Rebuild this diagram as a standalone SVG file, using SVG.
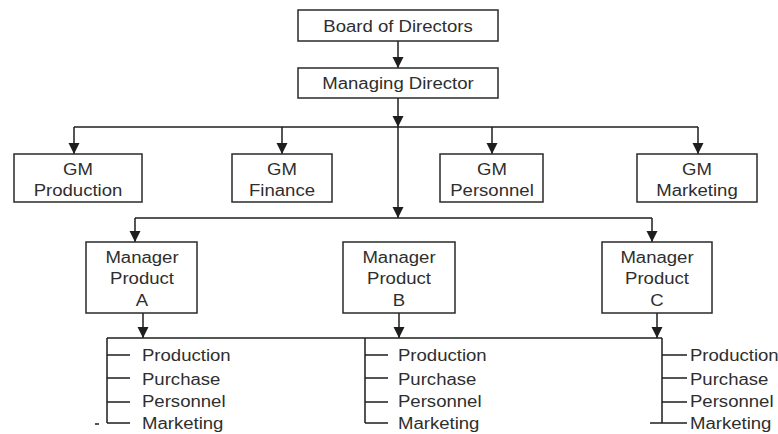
<svg xmlns="http://www.w3.org/2000/svg" width="778" height="434" viewBox="0 0 778 434">
  <style>
    .box { fill: #ffffff; stroke: #2a2a2a; stroke-width: 1.5; }
    .wire { fill: none; stroke: #1e1e1e; stroke-width: 1.5; }
    .arrow { marker-end: url(#head); }
    text { font-family: "Liberation Sans", Arial, sans-serif; font-size: 16px; fill: #2e2e2e; }
    .c { text-anchor: middle; }
  </style>
  <defs>
    <marker id="head" markerUnits="userSpaceOnUse" markerWidth="12" markerHeight="12" viewBox="0 0 12 12" refX="11" refY="6" orient="auto">
      <path d="M0 0.5 L11 6 L0 11.5 Z" fill="#1e1e1e"/>
    </marker>
  </defs>

  <rect width="778" height="434" fill="#ffffff"/>

  <!-- connectors -->
  <g id="connectors">
    <path class="wire arrow" d="M398 41 V68"/>
    <path class="wire arrow" d="M398 98 V127"/>
    <path class="wire arrow" d="M398 127 V218"/>
    <path class="wire" d="M74 127 H698"/>
    <path class="wire arrow" d="M74 127 V154"/>
    <path class="wire arrow" d="M282 127 V154"/>
    <path class="wire arrow" d="M492 127 V154"/>
    <path class="wire arrow" d="M698 127 V154"/>
    <path class="wire" d="M135 218 H652"/>
    <path class="wire arrow" d="M135 218 V242"/>
    <path class="wire arrow" d="M652 218 V242"/>
    <path class="wire arrow" d="M143 313 V338"/>
    <path class="wire arrow" d="M399 313 V338"/>
    <path class="wire arrow" d="M657 313 V338"/>
    <path class="wire" d="M107 338 H662"/>
    <!-- department ticks under product A -->
    <path class="wire" d="M107 338 V423 M107 355 H130 M107 378 H130 M107 402 H130 M107 423 H130"/>
    <!-- department ticks under product B -->
    <path class="wire" d="M365 338 V423 M365 355 H388 M365 378 H388 M365 402 H388 M365 423 H388"/>
    <!-- department ticks under product C -->
    <path class="wire" d="M662 338 V423 M662 355 H687 M662 378 H687 M662 402 H687 M662 423 H687"/>
    <path class="wire" d="M95 424 H99"/>
    <path class="wire" d="M650 423 H662"/>
  </g>

  <g id="board">
    <rect class="box" x="298" y="10" width="200" height="31"/>
    <text class="c" transform="translate(398 32) scale(1.16 1)">Board of Directors</text>
  </g>

  <g id="managing-director">
    <rect class="box" x="298" y="68" width="200" height="30"/>
    <text class="c" transform="translate(398 89) scale(1.16 1)">Managing Director</text>
  </g>

  <g id="gm-production">
    <rect class="box" x="14" y="154" width="128" height="48"/>
    <text class="c" transform="translate(78 175) scale(1.16 1)">GM</text>
    <text class="c" transform="translate(78 196) scale(1.16 1)">Production</text>
  </g>

  <g id="gm-finance">
    <rect class="box" x="232" y="154" width="100" height="48"/>
    <text class="c" transform="translate(282 175) scale(1.16 1)">GM</text>
    <text class="c" transform="translate(282 196) scale(1.16 1)">Finance</text>
  </g>

  <g id="gm-personnel">
    <rect class="box" x="440" y="154" width="103" height="48"/>
    <text class="c" transform="translate(492 175) scale(1.16 1)">GM</text>
    <text class="c" transform="translate(492 196) scale(1.16 1)">Personnel</text>
  </g>

  <g id="gm-marketing">
    <rect class="box" x="637" y="154" width="120" height="48"/>
    <text class="c" transform="translate(697 175) scale(1.16 1)">GM</text>
    <text class="c" transform="translate(697 196) scale(1.16 1)">Marketing</text>
  </g>

  <g id="product-a">
    <rect class="box" x="86" y="242" width="111" height="71"/>
    <text class="c" transform="translate(142 263) scale(1.16 1)">Manager</text>
    <text class="c" transform="translate(142 284) scale(1.16 1)">Product</text>
    <text class="c" transform="translate(142 306) scale(1.16 1)">A</text>
  </g>

  <g id="product-b">
    <rect class="box" x="343" y="242" width="112" height="71"/>
    <text class="c" transform="translate(399 263) scale(1.16 1)">Manager</text>
    <text class="c" transform="translate(399 284) scale(1.16 1)">Product</text>
    <text class="c" transform="translate(399 306) scale(1.16 1)">B</text>
  </g>

  <g id="product-c">
    <rect class="box" x="602" y="242" width="110" height="71"/>
    <text class="c" transform="translate(657 263) scale(1.16 1)">Manager</text>
    <text class="c" transform="translate(657 284) scale(1.16 1)">Product</text>
    <text class="c" transform="translate(657 306) scale(1.16 1)">C</text>
  </g>

  <g id="departments-a">
    <text transform="translate(142 361) scale(1.16 1)">Production</text>
    <text transform="translate(142 385) scale(1.16 1)">Purchase</text>
    <text transform="translate(142 407) scale(1.16 1)">Personnel</text>
    <text transform="translate(142 429) scale(1.16 1)">Marketing</text>
  </g>

  <g id="departments-b">
    <text transform="translate(398 361) scale(1.16 1)">Production</text>
    <text transform="translate(398 385) scale(1.16 1)">Purchase</text>
    <text transform="translate(398 407) scale(1.16 1)">Personnel</text>
    <text transform="translate(398 429) scale(1.16 1)">Marketing</text>
  </g>

  <g id="departments-c">
    <text transform="translate(690 361) scale(1.16 1)">Production</text>
    <text transform="translate(690 385) scale(1.16 1)">Purchase</text>
    <text transform="translate(690 407) scale(1.16 1)">Personnel</text>
    <text transform="translate(690 429) scale(1.16 1)">Marketing</text>
  </g>
</svg>
